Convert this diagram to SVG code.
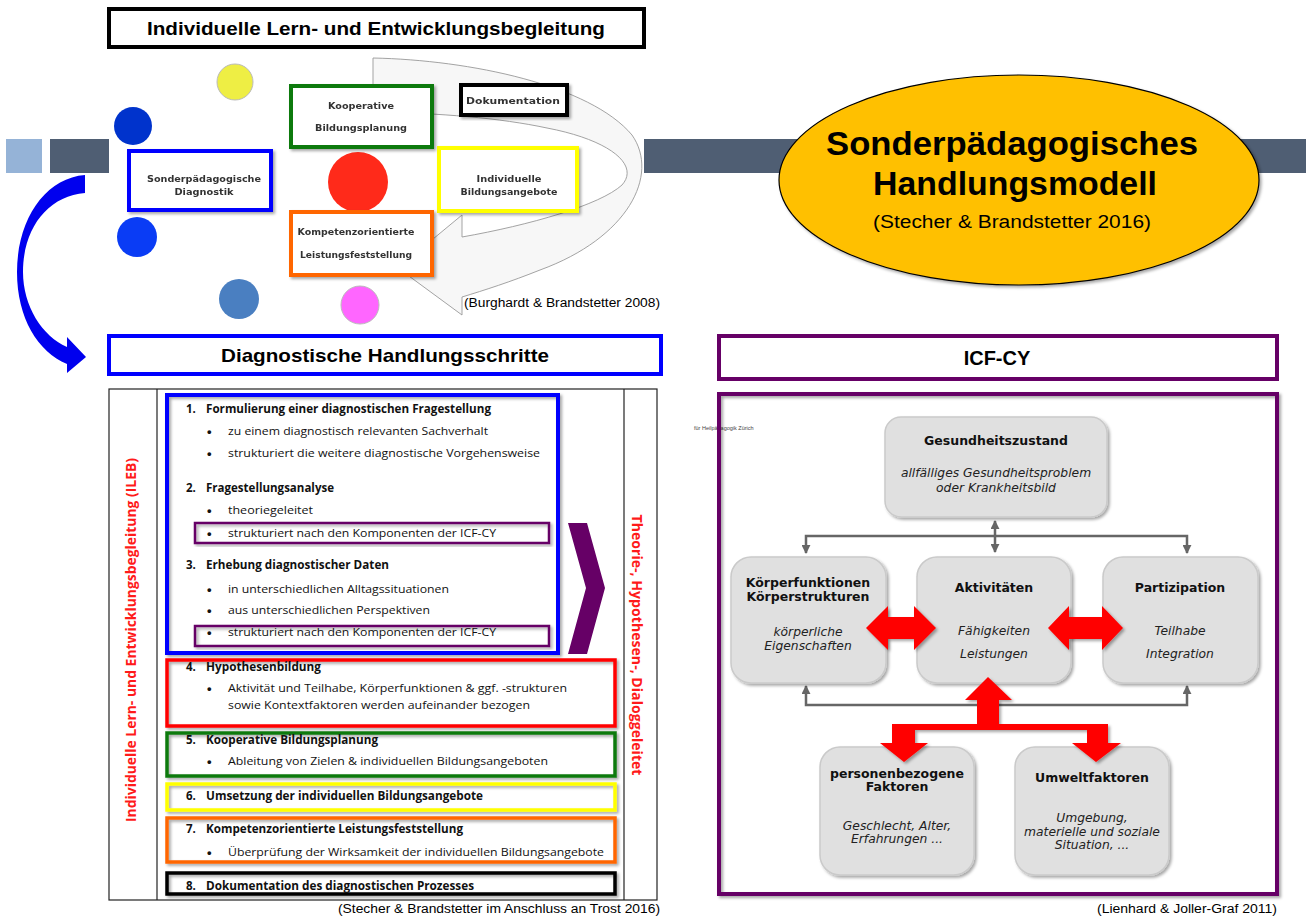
<svg xmlns="http://www.w3.org/2000/svg" width="1306" height="917" viewBox="0 0 1306 917">
<defs>
<style>
.ttl{font-family:"Liberation Sans",Arial,sans-serif;font-weight:bold;fill:#000}
.fut{font-family:"DejaVu Sans",Verdana,sans-serif;font-weight:bold;font-size:9px;fill:#333}
.lst{font-family:"Open Sans","Liberation Sans",sans-serif;font-size:11.5px;fill:#111}
.lsb{font-family:"Open Sans","Liberation Sans",sans-serif;font-size:11.5px;font-weight:bold;fill:#111}
.bul{font-family:"Liberation Sans",Arial,sans-serif;font-size:13px;font-weight:bold;fill:#111}
.icb{font-family:"DejaVu Sans",Verdana,sans-serif;font-weight:bold;font-size:12.5px;fill:#111;text-anchor:middle}
.ici{font-family:"DejaVu Sans",Verdana,sans-serif;font-style:italic;font-size:12.3px;fill:#222;text-anchor:middle}
.cit{font-family:"Liberation Sans",Arial,sans-serif;font-size:12.5px;fill:#000}
.node{fill:#e0e0e0;stroke:#cacaca;stroke-width:1.5}
.box{fill:#fff}
.gcon{fill:none;stroke:#666;stroke-width:2.5}
.red{fill:#ff0000}
</style>
<filter id="sh" x="-10%" y="-10%" width="130%" height="130%">
<feDropShadow dx="2" dy="2" stdDeviation="1.5" flood-color="#000" flood-opacity="0.35"/>
</filter>
<marker id="ah" viewBox="0 0 10 10" refX="9" refY="5" markerWidth="9" markerHeight="9" markerUnits="userSpaceOnUse" orient="auto-start-reverse">
<path d="M0,0 L10,5 L0,10 z" fill="#666"/>
</marker>
</defs>
<rect width="1306" height="917" fill="#fff"/>

<!-- banner bars -->
<g id="bars">
<rect x="6" y="139" width="36" height="34" fill="#95b3d7"/>
<rect x="50" y="139" width="59" height="34" fill="#4f5e73"/>
<rect x="644" y="139" width="662" height="34" fill="#4f5e73"/>
</g>

<!-- top title -->
<g id="title-ileb">
<rect x="109" y="9" width="535" height="38" fill="#fff" stroke="#000" stroke-width="4"/>
<text class="ttl" x="376" y="35" font-size="19" text-anchor="middle" textLength="458" lengthAdjust="spacingAndGlyphs">Individuelle Lern- und Entwicklungsbegleitung</text>
</g>

<!-- gray cycle arrow -->
<g id="cycle-arrow">
<path d="M373,58 C470,60 590,85 632,135 C660,175 628,238 540,270 C510,282 485,290 462,297 L462,315 L398,268 L462,215 L462,237 C530,225 600,205 622,185 C640,165 610,140 547,128 C500,118 440,113 373,112 Z" fill="#f7f7f7" stroke="#999" stroke-width="0.9"/>
</g>

<!-- circles -->
<g id="circles">
<circle cx="235" cy="82" r="18" fill="#eeee44" stroke="#bbb" stroke-width="1"/>
<circle cx="133" cy="126" r="19" fill="#0033cc"/>
<circle cx="137" cy="237" r="20" fill="#0a3cf5"/>
<circle cx="239" cy="299" r="20" fill="#4a7fc1"/>
<circle cx="360" cy="305" r="19" fill="#ff66ff" stroke="#bbb" stroke-width="1"/>
<circle cx="358" cy="182" r="30" fill="#ff2a1a"/>
</g>

<g id="box-kooperativ" filter="url(#sh)">
<rect x="291" y="86" width="141" height="61" class="box" stroke="#0a7a0a" stroke-width="4"/>
<text class="fut" x="361" y="109" text-anchor="middle" textLength="66" lengthAdjust="spacingAndGlyphs">Kooperative</text>
<text class="fut" x="361" y="131" text-anchor="middle" textLength="92" lengthAdjust="spacingAndGlyphs">Bildungsplanung</text>
</g>
<g id="box-dokumentation" filter="url(#sh)">
<rect x="461" y="85" width="106" height="30" class="box" stroke="#000" stroke-width="4"/>
<text class="fut" x="513" y="104" text-anchor="middle" textLength="94" lengthAdjust="spacingAndGlyphs">Dokumentation</text>
</g>
<g id="box-diagnostik" filter="url(#sh)">
<rect x="129" y="151" width="142" height="59" class="box" stroke="#0000ff" stroke-width="4"/>
<text class="fut" x="204" y="182" text-anchor="middle" textLength="114" lengthAdjust="spacingAndGlyphs">Sonderpädagogische</text>
<text class="fut" x="204" y="195" text-anchor="middle" textLength="59" lengthAdjust="spacingAndGlyphs">Diagnostik</text>
</g>
<g id="box-bildungsangebote" filter="url(#sh)">
<rect x="439" y="148" width="138" height="63" class="box" stroke="#ffff00" stroke-width="4"/>
<text class="fut" x="509" y="182" text-anchor="middle" textLength="65" lengthAdjust="spacingAndGlyphs">Individuelle</text>
<text class="fut" x="509" y="195" text-anchor="middle" textLength="97" lengthAdjust="spacingAndGlyphs">Bildungsangebote</text>
</g>
<g id="box-leistung" filter="url(#sh)">
<rect x="291" y="212" width="141" height="63" class="box" stroke="#ff6600" stroke-width="4"/>
<text class="fut" x="356" y="235" text-anchor="middle" textLength="117" lengthAdjust="spacingAndGlyphs">Kompetenzorientierte</text>
<text class="fut" x="356" y="258" text-anchor="middle" textLength="112" lengthAdjust="spacingAndGlyphs">Leistungsfeststellung</text>
</g>
<text class="cit" x="464" y="307" textLength="196" lengthAdjust="spacingAndGlyphs">(Burghardt &amp; Brandstetter 2008)</text>

<!-- ellipse title -->
<g id="handlungsmodell">
<ellipse cx="1019" cy="180" rx="240" ry="105" fill="#ffc000" stroke="#000" stroke-width="1.2" filter="url(#sh)"/>
<text class="ttl" x="1012" y="155" font-size="33" text-anchor="middle" textLength="372" lengthAdjust="spacingAndGlyphs">Sonderpädagogisches</text>
<text class="ttl" x="1015" y="195" font-size="33" text-anchor="middle" textLength="284" lengthAdjust="spacingAndGlyphs">Handlungsmodell</text>
<text x="1012" y="228" font-family="Liberation Sans, Arial, sans-serif" font-size="18" text-anchor="middle" textLength="278" lengthAdjust="spacingAndGlyphs">(Stecher &amp; Brandstetter 2016)</text>
</g>

<!-- connectors -->
<g id="connectors">
<path d="M85,175 C45,178 17,220 17,272 C17,318 38,352 67,364 L67,373 L86,357 L67,337 L67,347 C42,336 23,306 23,272 C23,228 48,196 85,193 Z" fill="#0000ee"/>
<path class="gcon" d="M995,521 L995,552" marker-start="url(#ah)" marker-end="url(#ah)"/>
<path class="gcon" d="M806,553 L806,536 L1187,536 L1187,553" marker-start="url(#ah)" marker-end="url(#ah)"/>
<path class="gcon" d="M806,686 L806,705 L1187,705 L1187,686" marker-start="url(#ah)" marker-end="url(#ah)"/>
</g>

<!-- section headers -->
<g id="hdr-diagnostik">
<rect x="109" y="336" width="552" height="38" fill="#fff" stroke="#0000ff" stroke-width="4"/>
<text class="ttl" x="385" y="362" font-size="19" text-anchor="middle" textLength="328" lengthAdjust="spacingAndGlyphs">Diagnostische Handlungsschritte</text>
</g>
<g id="hdr-icf">
<rect x="719" y="336" width="558" height="43" fill="#fff" stroke="#660066" stroke-width="4"/>
<text class="ttl" x="997" y="365" font-size="20" text-anchor="middle">ICF-CY</text>
</g>

<!-- diagnostic steps table -->
<g id="steps-table">
<rect x="109" y="389" width="548" height="511" fill="#fff" stroke="#222" stroke-width="1.2"/>
<line x1="157" y1="389" x2="157" y2="900" stroke="#222" stroke-width="1.2"/>
<line x1="624" y1="389" x2="624" y2="900" stroke="#222" stroke-width="1.2"/>
<text transform="translate(136,640) rotate(-90)" font-family="Open Sans, Liberation Sans, sans-serif" font-weight="bold" font-size="14.5" fill="#ff1a1a" text-anchor="middle" textLength="364" lengthAdjust="spacingAndGlyphs">Individuelle Lern- und Entwicklungsbegleitung (ILEB)</text>
<text transform="translate(632,645) rotate(90)" font-family="Open Sans, Liberation Sans, sans-serif" font-weight="bold" font-size="14.5" fill="#ff1a1a" text-anchor="middle" textLength="261" lengthAdjust="spacingAndGlyphs">Theorie-, Hypothesen-, Dialoggeleitet</text>
</g>

<g id="step-1-3">
<rect x="167" y="395" width="391" height="258" fill="none" stroke="#0000ff" stroke-width="4" filter="url(#sh)"/>
<rect x="195" y="523" width="354" height="20" fill="none" stroke="#660066" stroke-width="2.5" filter="url(#sh)"/>
<rect x="195" y="626" width="354" height="20" fill="none" stroke="#660066" stroke-width="2.5" filter="url(#sh)"/>
<text class="lsb" x="186" y="413">1.</text>
<text class="lsb" x="206" y="413" textLength="285" lengthAdjust="spacingAndGlyphs">Formulierung einer diagnostischen Fragestellung</text>
<text class="bul" x="207" y="436">•</text><text class="lst" x="228" y="435" textLength="260" lengthAdjust="spacingAndGlyphs">zu einem diagnostisch relevanten Sachverhalt</text>
<text class="bul" x="207" y="458">•</text><text class="lst" x="228" y="457" textLength="312" lengthAdjust="spacingAndGlyphs">strukturiert die weitere diagnostische Vorgehensweise</text>
<text class="lsb" x="186" y="492">2.</text>
<text class="lsb" x="206" y="492" textLength="128" lengthAdjust="spacingAndGlyphs">Fragestellungsanalyse</text>
<text class="bul" x="207" y="515">•</text><text class="lst" x="228" y="514" textLength="85" lengthAdjust="spacingAndGlyphs">theoriegeleitet</text>
<text class="bul" x="207" y="538">•</text><text class="lst" x="228" y="537" textLength="268" lengthAdjust="spacingAndGlyphs">strukturiert nach den Komponenten der ICF-CY</text>
<text class="lsb" x="186" y="569">3.</text>
<text class="lsb" x="206" y="569" textLength="183" lengthAdjust="spacingAndGlyphs">Erhebung diagnostischer Daten</text>
<text class="bul" x="207" y="594">•</text><text class="lst" x="228" y="593" textLength="221" lengthAdjust="spacingAndGlyphs">in unterschiedlichen Alltagssituationen</text>
<text class="bul" x="207" y="615">•</text><text class="lst" x="228" y="614" textLength="202" lengthAdjust="spacingAndGlyphs">aus unterschiedlichen Perspektiven</text>
<text class="bul" x="207" y="637">•</text><text class="lst" x="228" y="636" textLength="268" lengthAdjust="spacingAndGlyphs">strukturiert nach den Komponenten der ICF-CY</text>
<polygon points="568,523 587,523 605,588 587,654 568,654 586,588" fill="#660066"/>
</g>

<g id="step-4">
<rect x="167" y="660" width="448" height="66" fill="none" stroke="#ff0000" stroke-width="3.5" filter="url(#sh)"/>
<text class="lsb" x="186" y="671">4.</text>
<text class="lsb" x="206" y="671" textLength="115" lengthAdjust="spacingAndGlyphs">Hypothesenbildung</text>
<text class="bul" x="207" y="693">•</text><text class="lst" x="228" y="692" textLength="339" lengthAdjust="spacingAndGlyphs">Aktivität und Teilhabe, Körperfunktionen &amp; ggf. -strukturen</text>
<text class="lst" x="228" y="709" textLength="302" lengthAdjust="spacingAndGlyphs">sowie Kontextfaktoren werden aufeinander bezogen</text>
</g>
<g id="step-5">
<rect x="167" y="733" width="448" height="43" fill="none" stroke="#0a7a0a" stroke-width="3.5" filter="url(#sh)"/>
<text class="lsb" x="186" y="744">5.</text>
<text class="lsb" x="206" y="744" textLength="172" lengthAdjust="spacingAndGlyphs">Kooperative Bildungsplanung</text>
<text class="bul" x="207" y="766">•</text><text class="lst" x="228" y="765" textLength="320" lengthAdjust="spacingAndGlyphs">Ableitung von Zielen &amp; individuellen Bildungsangeboten</text>
</g>
<g id="step-6">
<rect x="167" y="784" width="448" height="26" fill="none" stroke="#ffff00" stroke-width="3.5" filter="url(#sh)"/>
<text class="lsb" x="186" y="800">6.</text>
<text class="lsb" x="206" y="800" textLength="277" lengthAdjust="spacingAndGlyphs">Umsetzung der individuellen Bildungsangebote</text>
</g>
<g id="step-7">
<rect x="167" y="818" width="448" height="44" fill="none" stroke="#ff6600" stroke-width="3.5" filter="url(#sh)"/>
<text class="lsb" x="186" y="833">7.</text>
<text class="lsb" x="206" y="833" textLength="257" lengthAdjust="spacingAndGlyphs">Kompetenzorientierte Leistungsfeststellung</text>
<text class="bul" x="207" y="857">•</text><text class="lst" x="228" y="856" textLength="376" lengthAdjust="spacingAndGlyphs">Überprüfung der Wirksamkeit der individuellen Bildungsangebote</text>
</g>
<g id="step-8">
<rect x="167" y="873" width="448" height="21" fill="none" stroke="#000" stroke-width="3.5" filter="url(#sh)"/>
<text class="lsb" x="186" y="890">8.</text>
<text class="lsb" x="206" y="890" textLength="268" lengthAdjust="spacingAndGlyphs">Dokumentation des diagnostischen Prozesses</text>
</g>
<text class="cit" x="660" y="913" text-anchor="end" textLength="322" lengthAdjust="spacingAndGlyphs">(Stecher &amp; Brandstetter im Anschluss an Trost 2016)</text>

<!-- ICF panel -->
<g id="icf-panel">
<text x="694" y="430" font-family="Liberation Sans, Arial, sans-serif" font-size="5.5" fill="#444">für Heilpädagogik Zürich</text>
<rect x="719" y="394" width="558" height="500" fill="none" stroke="#660066" stroke-width="4" filter="url(#sh)"/>
</g>

<g id="node-gesundheit">
<rect class="node" x="885" y="417" width="222" height="100" rx="16" filter="url(#sh)"/>
<text class="icb" x="996" y="445">Gesundheitszustand</text>
<text class="ici" x="996" y="477">allfälliges Gesundheitsproblem</text>
<text class="ici" x="996" y="492">oder Krankheitsbild</text>
</g>
<g id="node-koerper">
<rect class="node" x="731" y="557" width="155" height="126" rx="20" filter="url(#sh)"/>
<text class="icb" x="808" y="587">Körperfunktionen</text>
<text class="icb" x="808" y="601">Körperstrukturen</text>
<text class="ici" x="808" y="636">körperliche</text>
<text class="ici" x="808" y="650">Eigenschaften</text>
</g>
<g id="node-aktivitaeten">
<rect class="node" x="917" y="557" width="154" height="126" rx="20" filter="url(#sh)"/>
<text class="icb" x="994" y="592">Aktivitäten</text>
<text class="ici" x="994" y="635">Fähigkeiten</text>
<text class="ici" x="994" y="658">Leistungen</text>
</g>
<g id="node-partizipation">
<rect class="node" x="1103" y="557" width="155" height="126" rx="20" filter="url(#sh)"/>
<text class="icb" x="1180" y="592">Partizipation</text>
<text class="ici" x="1180" y="635">Teilhabe</text>
<text class="ici" x="1180" y="658">Integration</text>
</g>
<g id="node-personen">
<rect class="node" x="820" y="747" width="154" height="128" rx="20" filter="url(#sh)"/>
<text class="icb" x="897" y="778">personenbezogene</text>
<text class="icb" x="897" y="791">Faktoren</text>
<text class="ici" x="897" y="830">Geschlecht, Alter,</text>
<text class="ici" x="897" y="843">Erfahrungen ...</text>
</g>
<g id="node-umwelt">
<rect class="node" x="1015" y="747" width="154" height="128" rx="20" filter="url(#sh)"/>
<text class="icb" x="1092" y="782">Umweltfaktoren</text>
<text class="ici" x="1092" y="822">Umgebung,</text>
<text class="ici" x="1092" y="836">materielle und soziale</text>
<text class="ici" x="1092" y="849">Situation, ...</text>
</g>

<g id="red-arrows" filter="url(#sh)">
<polygon class="red" points="866,628 888,606 888,617 914,617 914,606 936,628 914,650 914,639 888,639 888,650"/>
<polygon class="red" points="1048,628 1069,606 1069,617 1102,617 1102,606 1123,628 1102,650 1102,639 1069,639 1069,650"/>
<polygon class="red" points="988,677 1012,700 999,700 999,724 1108,724 1108,743 1121,743 1096,762 1072,743 1087,743 1087,730 915,730 915,743 928,743 904,762 880,743 892,743 892,724 977,724 977,700 965,700"/>
</g>
<text class="cit" x="1277" y="913" text-anchor="end" textLength="180" lengthAdjust="spacingAndGlyphs">(Lienhard &amp; Joller-Graf 2011)</text>
</svg>
